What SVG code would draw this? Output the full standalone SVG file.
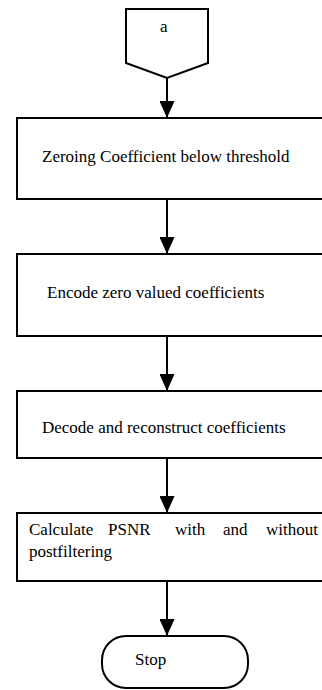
<svg xmlns="http://www.w3.org/2000/svg" width="322" height="690" viewBox="0 0 322 690">
<style>
.s{fill:#fff;stroke:#000;stroke-width:2}
.t{font-family:"Liberation Serif","Times New Roman",serif;font-size:17px;fill:#000}
.c{stroke:#000;stroke-width:2;fill:none}
</style>
<defs>
<marker id="ah" markerWidth="17" markerHeight="15" refX="17" refY="7.5" orient="auto" markerUnits="userSpaceOnUse">
<path d="M0,0 L17,7.5 L0,15 Z" fill="#000"/>
</marker>
</defs>
<rect width="322" height="690" fill="#fff"/>
<g id="connectors">
<line class="c" x1="167" y1="78" x2="167" y2="118" marker-end="url(#ah)"/>
<line class="c" x1="167" y1="199" x2="167" y2="254" marker-end="url(#ah)"/>
<line class="c" x1="167" y1="336" x2="167" y2="391" marker-end="url(#ah)"/>
<line class="c" x1="167" y1="458" x2="167" y2="513" marker-end="url(#ah)"/>
<line class="c" x1="167" y1="581" x2="167" y2="636" marker-end="url(#ah)"/>
</g>
<g id="a">
<path class="s" d="M126,9 H208 V63 L167,78 L126,63 Z"/>
<text class="t" x="160" y="32">a</text>
</g>
<g id="zeroing">
<rect class="s" x="17" y="118" width="320" height="81"/>
<text class="t" x="42" y="162">Zeroing Coefficient below threshold</text>
</g>
<g id="encode">
<rect class="s" x="17" y="254" width="320" height="82"/>
<text class="t" x="47" y="298">Encode zero valued coefficients</text>
</g>
<g id="decode">
<rect class="s" x="17" y="391" width="320" height="67"/>
<text class="t" x="42" y="433">Decode and reconstruct coefficients</text>
</g>
<g id="calculate">
<rect class="s" x="17" y="513" width="320" height="68"/>
<text class="t" y="535"><tspan x="29">Calculate</tspan><tspan x="108">PSNR</tspan><tspan x="175">with</tspan><tspan x="223">and</tspan><tspan x="266">without</tspan></text>
<text class="t" x="29" y="557">postfiltering</text>
</g>
<g id="stop">
<rect class="s" x="102" y="636" width="146" height="52" rx="24" ry="24"/>
<text class="t" x="135" y="665">Stop</text>
</g>
</svg>
